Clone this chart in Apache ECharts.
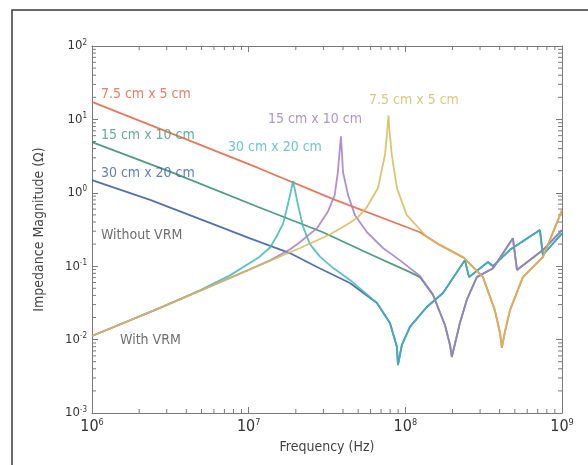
<!DOCTYPE html>
<html><head><meta charset="utf-8">
<script src="https://cdn.jsdelivr.net/npm/echarts@6/dist/echarts.min.js"></script>
<style>html,body{margin:0;padding:0;background:#fff}#c{width:588px;height:465px}</style>
</head><body><div id="c"></div>
<script>
// ---- data (frequency in Hz, impedance in ohm) ----
const xTickValues = [1e6, 1e7, 1e8, 1e9];
const yTickValues = [1e-3, 1e-2, 1e-1, 1e0, 1e1, 1e2];
const minorFactors = [2, 3, 4, 5, 6, 7, 8, 9];

const board75NoVrm = [[1e6,17.3],[1.15e7,2.18],[3.56e7,0.80],[1.24e8,0.29],[1.66e8,0.195],[2.37e8,0.13],[3.13e8,0.071],[3.73e8,0.025],[4.02e8,0.0123],[4.13e8,0.0077],[4.32e8,0.0127],[4.65e8,0.025],[5.63e8,0.071],[7.55e8,0.133],[1e9,0.58]];
const board15NoVrm = [[1e6,4.9],[3.15e6,1.94],[1.15e7,0.64],[2.98e7,0.29],[6.12e7,0.142],[1.07e8,0.083],[1.24e8,0.071],[1.5e8,0.041],[1.79e8,0.0158],[1.93e8,0.0084],[1.98e8,0.0058],[2.23e8,0.0168],[2.47e8,0.035],[2.86e8,0.071],[3.63e8,0.094],[4.86e8,0.24],[5.16e8,0.089],[7.55e8,0.166],[1e9,0.31]];
const board30NoVrm = [[1e6,1.49],[2.35e6,0.80],[6.65e6,0.34],[1.02e7,0.24],[1.83e7,0.151],[2.73e7,0.0975],[4.43e7,0.059],[6.59e7,0.0315],[7.98e7,0.0168],[8.84e7,0.0079],[8.97e7,0.0045],[9.5e7,0.0084],[1.07e8,0.0149],[1.37e8,0.0278],[1.74e8,0.0431],[2.40e8,0.121],[2.55e8,0.071],[3.37e8,0.114],[3.63e8,0.10],[4.65e8,0.167],[7.23e8,0.311],[7.55e8,0.142],[1e9,0.28]];

const board30Vrm = [[1e6,0.0112],[2.72e6,0.027],[4.89e6,0.047],[7.6e6,0.075],[1.15e7,0.13],[1.37e7,0.18],[1.5e7,0.25],[1.66e7,0.38],[1.78e7,0.7],[1.86e7,1.05],[1.92e7,1.45],[1.99e7,1.0],[2.06e7,0.7],[2.22e7,0.35],[2.46e7,0.2],[2.85e7,0.135],[3.45e7,0.095],[4.43e7,0.065],[6.59e7,0.0315],[7.98e7,0.0168],[8.84e7,0.0079],[8.97e7,0.0045],[9.5e7,0.0084],[1.07e8,0.0149],[1.37e8,0.0278],[1.74e8,0.0431],[2.40e8,0.121],[2.55e8,0.071],[3.37e8,0.114],[3.63e8,0.10],[4.65e8,0.167],[7.23e8,0.311],[7.55e8,0.142],[1e9,0.28]];
const board15Vrm = [[1e6,0.0112],[2.72e6,0.027],[1e7,0.089],[1.37e7,0.12],[1.84e7,0.17],[2.13e7,0.214],[2.73e7,0.33],[3.2e7,0.55],[3.54e7,0.93],[3.71e7,1.92],[3.8e7,3.5],[3.88e7,5.9],[3.94e7,3.5],[4.0e7,1.92],[4.31e7,0.93],[4.76e7,0.50],[5.69e7,0.29],[7.2e7,0.177],[9.25e7,0.12],[1.24e8,0.0735],[1.5e8,0.041],[1.79e8,0.0158],[1.93e8,0.0084],[1.98e8,0.0058],[2.23e8,0.0168],[2.47e8,0.035],[2.86e8,0.071],[3.63e8,0.094],[4.86e8,0.24],[5.16e8,0.089],[7.55e8,0.166],[1e9,0.31]];
const board75Vrm = [[1e6,0.0112],[2.72e6,0.027],[1e7,0.089],[2.13e7,0.177],[3.3e7,0.27],[4.43e7,0.39],[5.0e7,0.47],[5.69e7,0.64],[6.69e7,1.16],[7.41e7,3.27],[7.65e7,6.5],[7.8e7,11.3],[7.95e7,6.5],[8.2e7,3.27],[8.84e7,1.16],[1.02e8,0.50],[1.37e8,0.25],[1.66e8,0.195],[2.37e8,0.13],[3.13e8,0.071],[3.73e8,0.025],[4.02e8,0.0123],[4.13e8,0.0077],[4.32e8,0.0127],[4.65e8,0.025],[5.63e8,0.071],[7.55e8,0.133],[1e9,0.58]];

const seriesNames = ['7.5 cm x 5 cm (without VRM)','15 cm x 10 cm (without VRM)','30 cm x 20 cm (without VRM)','30 cm x 20 cm (with VRM)','15 cm x 10 cm (with VRM)','7.5 cm x 5 cm (with VRM)'];
const noteTexts = ['7.5 cm x 5 cm','15 cm x 10 cm','30 cm x 20 cm','Without VRM','With VRM','15 cm x 10 cm','30 cm x 20 cm','7.5 cm x 5 cm'];
const xTitle = 'Frequency (Hz)';
const yTitle = 'Impedance Magnitude (\u03a9)';

// ---- styling / layout ----
const FONT = "'Liberation Sans Narrow','DejaVu Sans Condensed','Roboto Condensed',sans-serif";
const colors = ['#e2603e','#2f8c68','#3458a6','#3db6ba','#a47cc8','#d8b858'];
const noteAnchors = [[1.14e6,22.2],[1.14e6,6.1],[1.14e6,1.86],[1.14e6,0.266],[1.51e6,0.0099],[1.33e7,10.1],[7.38e6,4.2],[5.86e7,18.4]];
const noteColors = ['#e2603e','#3a9a78','#3a5ea8','#4a4a4a','#4a4a4a','#9a78c0','#4ab8c0','#d4b860'];

function expLabel(v){ const e = Math.round(Math.log10(v)); return '{b|10}{s|' + e + '}'; }
const gridBox = {left:92, top:46, width:470, height:367};
const axisCol = '#7a7a7a';

const minorX = [], minorY = [];
xTickValues.slice(0, -1).forEach(d => minorFactors.forEach(m => minorX.push(m * d)));
yTickValues.slice(0, -1).forEach(d => minorFactors.forEach(m => minorY.push(m * d)));

function tickRenderer(isX){
  return function(params, api){
    const len = 4;
    const st = {stroke: axisCol, lineWidth: 1};
    if (isX) {
      const v = api.value(0);
      const b = api.coord([v, 1e-3]), t = api.coord([v, 1e2]);
      return {type:'group', children:[
        {type:'line', shape:{x1:b[0], y1:b[1], x2:b[0], y2:b[1]-len}, style:st},
        {type:'line', shape:{x1:t[0], y1:t[1], x2:t[0], y2:t[1]+len}, style:st}]};
    }
    const v = api.value(1);
    const l = api.coord([1e6, v]), r = api.coord([1e9, v]);
    return {type:'group', children:[
      {type:'line', shape:{x1:l[0], y1:l[1], x2:l[0]+len, y2:l[1]}, style:st},
      {type:'line', shape:{x1:r[0], y1:r[1], x2:r[0]-len, y2:r[1]}, style:st}]};
  };
}

const lineSeries = [board75NoVrm, board15NoVrm, board30NoVrm, board30Vrm, board15Vrm, board75Vrm].map((d,i)=>({
  type:'line', name:seriesNames[i], data:d, showSymbol:false, symbol:'none', silent:true,
  lineStyle:{color:colors[i], width:1.8, opacity:0.85}, z:2+i, animation:false
}));
const noteSeries = noteTexts.map((t,i)=>({
  type:'scatter', data:[noteAnchors[i]], symbolSize:0, silent:true, animation:false, z:20,
  label:{show:true, position:'right', distance:0, formatter:t, color:noteColors[i], fontFamily:FONT, fontSize:14}
}));
const tickSeries = [
  {type:'custom', silent:true, animation:false, clip:false, z:1, renderItem:tickRenderer(true), data:minorX.map(v=>[v, 1])},
  {type:'custom', silent:true, animation:false, clip:false, z:1, renderItem:tickRenderer(false), data:minorY.map(v=>[2e6, v])}
];

const chart = echarts.init(document.getElementById('c'), null, {renderer:'canvas'});
const baseX = {type:'log', logBase:10, min:1e6, max:1e9, gridIndex:0};
const baseY = {type:'log', logBase:10, min:1e-3, max:1e2, gridIndex:0};
chart.setOption({
  backgroundColor:'#fff',
  animation:false,
  grid:gridBox,
  graphic:[{type:'rect', shape:{x:12, y:10, width:620, height:500}, style:{fill:'none', stroke:'#3a3a3a', lineWidth:1.5}, z:-1}],
  xAxis:[
    Object.assign({}, baseX, {position:'bottom', name:xTitle, nameLocation:'middle', nameGap:27,
      nameTextStyle:{fontFamily:FONT, fontSize:14, color:'#444'},
      axisLine:{show:true, lineStyle:{color:axisCol}}, splitLine:{show:false},
      axisTick:{show:true, inside:true, length:6, lineStyle:{color:axisCol}},
      axisLabel:{formatter:expLabel, margin:5, fontFamily:FONT, color:'#333',
        rich:{b:{fontSize:16, fontFamily:FONT, color:'#333', lineHeight:18}, s:{fontSize:9, fontFamily:FONT, color:'#333', verticalAlign:'top', lineHeight:10}}}
    }),
    Object.assign({}, baseX, {position:'top',
      axisLine:{show:true, lineStyle:{color:axisCol}}, splitLine:{show:false}, axisLabel:{show:false},
      axisTick:{show:true, inside:true, length:6, lineStyle:{color:axisCol}}})
  ],
  yAxis:[
    Object.assign({}, baseY, {position:'left', name:yTitle, nameLocation:'middle', nameGap:46,
      nameTextStyle:{fontFamily:FONT, fontSize:14, color:'#444'},
      axisLine:{show:true, lineStyle:{color:axisCol}}, splitLine:{show:false},
      axisTick:{show:true, inside:true, length:6, lineStyle:{color:axisCol}},
      axisLabel:{formatter:expLabel, margin:5, fontFamily:FONT, color:'#333',
        rich:{b:{fontSize:13, fontFamily:FONT, color:'#333', lineHeight:15}, s:{fontSize:8, fontFamily:FONT, color:'#333', verticalAlign:'top', lineHeight:8}}}
    }),
    Object.assign({}, baseY, {position:'right',
      axisLine:{show:true, lineStyle:{color:axisCol}}, splitLine:{show:false}, axisLabel:{show:false},
      axisTick:{show:true, inside:true, length:6, lineStyle:{color:axisCol}}})
  ],
  series: lineSeries.concat(tickSeries, noteSeries)
});
</script></body></html>
